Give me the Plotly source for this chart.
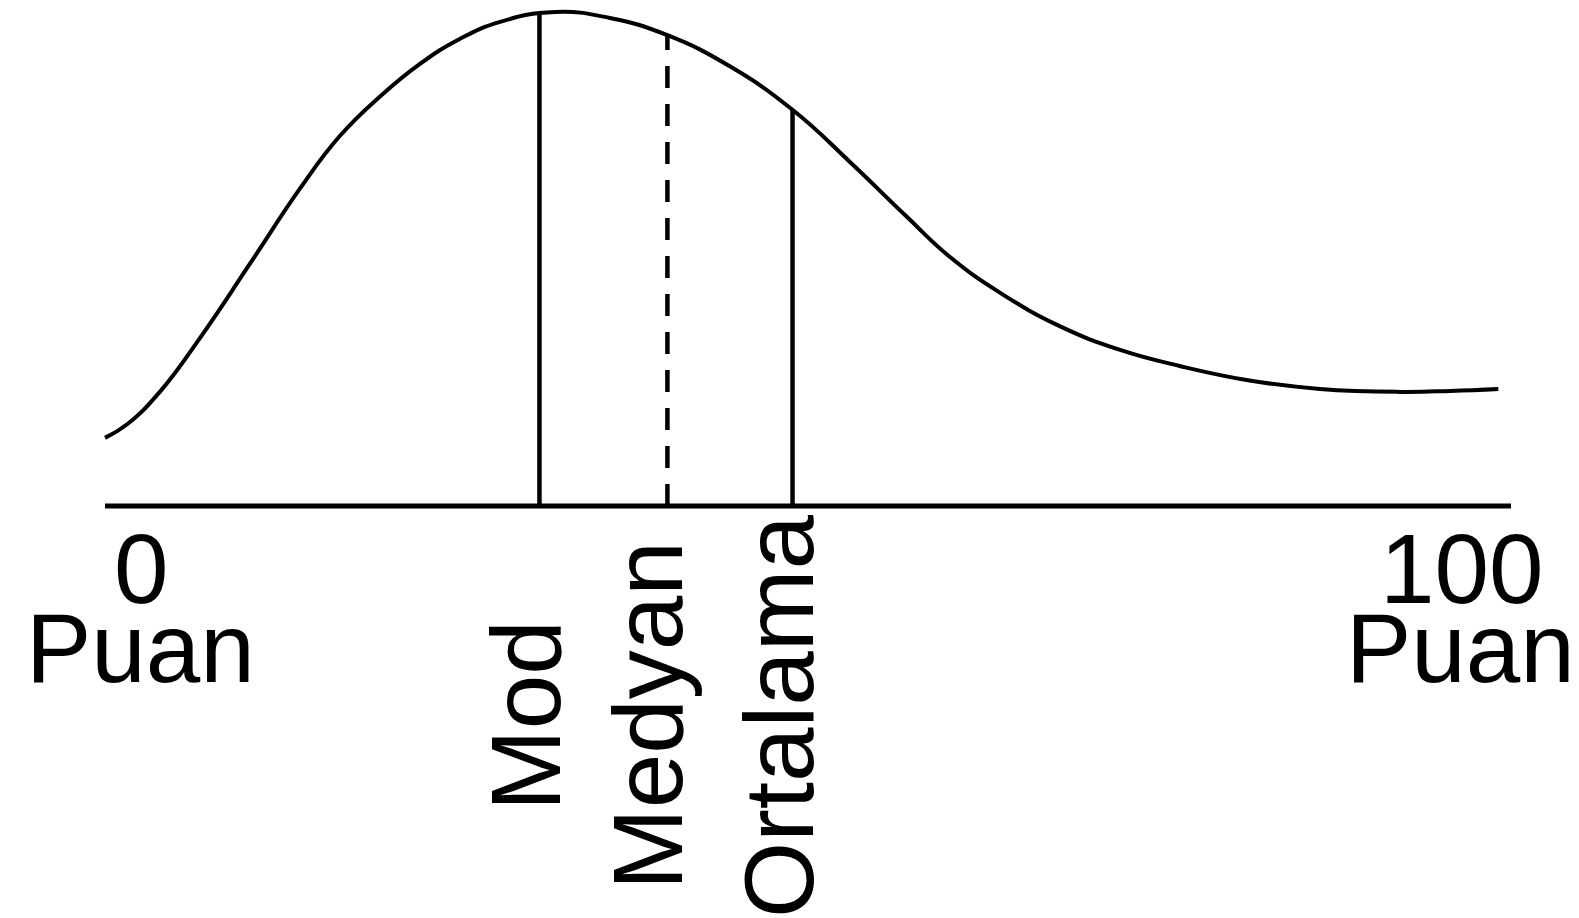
import plotly.graph_objects as go

# ---- data (score 0-100 on x, relative frequency on y, peak = 100) ----
curve_x = [0, 1.6, 3.9, 6.8, 10.3, 13.9, 16.7, 19.6, 22.4, 25.2, 28.1, 32.0, 35.9, 40.0,
           44.5, 48.9, 53.0, 56.9, 60.1, 63.7, 67.9, 72.2, 76.5, 81.4, 86.4, 92.1, 95.7, 99.1]
curve_y = [13.8, 16.6, 23.1, 34.2, 49.0, 64.4, 74.9, 83.0, 89.5, 94.5, 98.0, 100.0, 98.8, 95.3,
           88.9, 80.2, 69.6, 58.9, 50.4, 43.1, 36.4, 31.6, 28.3, 25.4, 23.7, 23.1, 23.3, 23.7]

measure_names = ["Mod", "Medyan", "Ortalama"]
measure_x = [30.9, 40.0, 48.9]
measure_top = [99.8, 95.3, 80.2]
measure_dash = ["solid", "22px,16px", "solid"]

axis_min, axis_max = 0, 100
end_ticks = ["0", "100"]
end_unit = "Puan"

# ---- geometry (pixel layout; page body has an 8px margin) ----
OFF = 8
W, H = 1579 - OFF, 918 - OFF
AX_LEFT_PX, AX_RIGHT_PX, AX_Y_PX = 105 - OFF, 1511 - OFF, 506 - OFF
px_per_x = (AX_RIGHT_PX - AX_LEFT_PX) / 100.0
px_per_y = 4.94

def xr(px):  # reference-image pixel -> data x
    return (px - OFF - AX_LEFT_PX) / px_per_x

def yr(py):  # reference-image pixel -> data y
    return (AX_Y_PX - (py - OFF)) / px_per_y

fig = go.Figure()

# baseline axis
fig.add_trace(go.Scatter(x=[axis_min, axis_max], y=[0, 0], mode="lines",
                         line=dict(color="black", width=5), hoverinfo="skip"))

# measure lines
for name, mx, top, dash in zip(measure_names, measure_x, measure_top, measure_dash):
    fig.add_trace(go.Scatter(x=[mx, mx], y=[0, top], mode="lines",
                             line=dict(color="black", width=4.5, dash=dash),
                             hoverinfo="skip"))

# curve
fig.add_trace(go.Scatter(x=curve_x, y=curve_y, mode="lines",
                         line=dict(color="black", width=4, shape="spline", smoothing=1.3),
                         hoverinfo="skip"))

FONT = dict(family="Liberation Sans, Arial, sans-serif", size=98, color="black")

# end labels
for tick, cx in zip(end_ticks, [xr(141), xr(1462)]):
    fig.add_annotation(x=cx, y=yr(569), text=tick, showarrow=False, font=FONT,
                       xanchor="center", yanchor="middle")
for cx in [xr(140), xr(1460)]:
    fig.add_annotation(x=cx, y=yr(648), text=end_unit, showarrow=False, font=FONT,
                       xanchor="center", yanchor="middle")

# vertical labels
label_px = [526, 648, 779]
for name, lx in zip(measure_names, label_px):
    fig.add_annotation(x=xr(lx), y=yr(716), text=name, showarrow=False, font=FONT,
                       textangle=-90, xanchor="center", yanchor="middle")

fig.update_layout(
    width=W, height=H,
    margin=dict(l=0, r=0, t=0, b=0),
    paper_bgcolor="white", plot_bgcolor="white",
    showlegend=False,
    xaxis=dict(range=[xr(OFF), xr(OFF + W)], visible=False, fixedrange=True),
    yaxis=dict(range=[yr(OFF + H), yr(OFF)], visible=False, fixedrange=True),
)

fig.write_html("out.html")
